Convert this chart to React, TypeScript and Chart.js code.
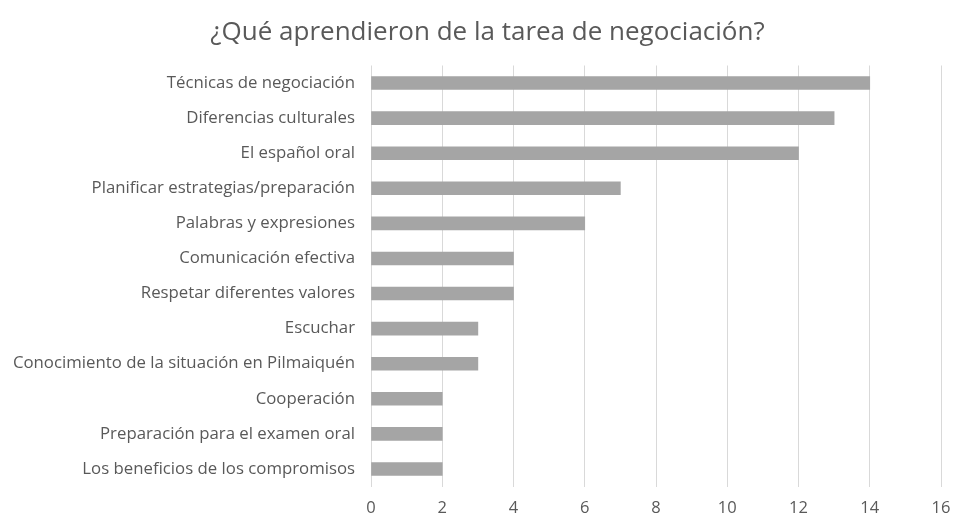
import React, { useEffect, useRef } from "react";
import { Chart, registerables } from "chart.js";

Chart.register(...registerables);

const categories = [
  "Técnicas de negociación",
  "Diferencias culturales",
  "El español oral",
  "Planificar estrategias/preparación",
  "Palabras y expresiones",
  "Comunicación efectiva",
  "Respetar diferentes valores",
  "Escuchar",
  "Conocimiento de la situación en Pilmaiquén",
  "Cooperación",
  "Preparación para el examen oral",
  "Los beneficios de los compromisos",
];
const values = [14, 13, 12, 7, 6, 4, 4, 3, 3, 2, 2, 2];
const titleText = "¿Qué aprendieron de la tarea de negociación?";
const xMin = 0;
const xMax = 16;
const xStep = 2;

const FONT = "'Open Sans', 'Noto Sans', sans-serif";

const shiftTitle = {
  id: "shiftTitle",
  afterLayout(chart: any) {
    const t = chart.titleBlock;
    if (t) {
      t.left = 34;
    }
  },
};

export default function App() {
  const ref = useRef<HTMLCanvasElement | null>(null);
  useEffect(() => {
    if (!ref.current) return;
    const chart = new Chart(ref.current, {
      type: "bar",
      data: {
        labels: categories,
        datasets: [
          {
            data: values,
            backgroundColor: "#a5a5a5",
            barThickness: 13,
          },
        ],
      },
      plugins: [shiftTitle],
      options: {
        indexAxis: "y",
        animation: false,
        responsive: false,
        layout: { padding: { left: 0, right: 12, top: 0, bottom: 0 } },
        plugins: {
          legend: { display: false },
          tooltip: { enabled: false },
          title: {
            display: true,
            text: titleText,
            color: "#595959",
            font: { family: FONT, size: 26, weight: "normal", lineHeight: 1.2 },
            padding: { top: 17, bottom: 17.3 },
          },
        },
        scales: {
          x: {
            min: xMin,
            max: xMax,
            ticks: {
              stepSize: xStep,
              color: "#595959",
              font: { family: FONT, size: 16.5 },
              padding: 12,
            },
            grid: { color: "#d9d9d9", drawTicks: false },
            border: { display: false },
            afterFit: (s: any) => {
              s.height = 34.5;
              s.paddingRight = 0;
              s.paddingLeft = 0;
            },
          },
          y: {
            ticks: {
              color: "#595959",
              font: { family: FONT, size: 16.8 },
              padding: 16,
              autoSkip: false,
            },
            grid: { display: false, drawTicks: false },
            border: { display: false },
            afterFit: (s: any) => {
              s.width = 371;
              s.paddingTop = 0;
              s.paddingBottom = 0;
            },
          },
        },
      },
    });
    return () => chart.destroy();
  }, []);
  return (
    <div style={{ position: "fixed", left: 0, top: 0, width: 953, height: 521, background: "#fff" }}>
      <canvas ref={ref} width={953} height={521} style={{ width: 953, height: 521 }} />
    </div>
  );
}
